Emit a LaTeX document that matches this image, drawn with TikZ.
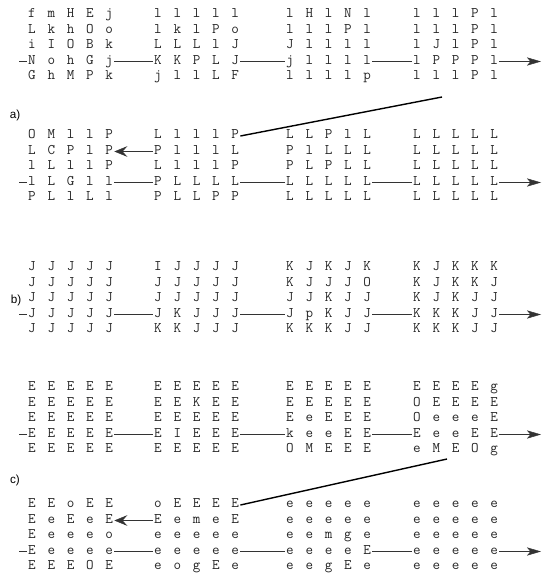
\documentclass[tikz,border=0pt]{standalone}
\usepackage{fontspec}
\newfontfamily\lblfont{Liberation Sans}
\usetikzlibrary{arrows.meta,calc}
\tikzset{
  ltr/.style={font=\ttfamily\fontsize{12.5}{14}\selectfont,text=black!85,inner sep=1pt,text height=1.5ex,text depth=0.4ex},
  tag/.style={font=\lblfont\fontsize{10}{12}\selectfont},
  rowline/.style={thin,black!80},
  outarr/.style={rowline,-{Stealth[length=12pt,width=7pt,inset=3pt]}},
  backarr/.style={rowline,-{Stealth[length=11pt,width=9pt,inset=4pt]}},
  wrapline/.style={line width=1.2pt}
}
% one 5x5 block of letters: name, x, y of first row, rows
\newcommand{\letterblock}[4]{%
  \foreach \row [count=\i] in {#4} {
    \foreach \ch [count=\j] in \row
      \node[ltr] (#1-\i-\j) at ({#2+19.3*(\j-1)},{#3+15.5*(\i-1)}) {\ch};
  }
}

\begin{document}
\begin{tikzpicture}[x=0.3mm,y=-0.3mm]
  \useasboundingbox (0,0) rectangle (543,577);

  % a) upper
  \letterblock{upA1}{32}{15}{{f,m,H,E,j},{L,k,h,O,o},{i,I,O,B,k},{N,o,h,G,j},{G,h,M,P,k}}
  \letterblock{upA2}{158}{15}{{l,l,l,l,l},{l,k,l,P,o},{L,L,L,l,J},{K,K,P,L,J},{j,l,l,L,F}}
  \letterblock{upA3}{290}{15}{{l,H,l,N,l},{l,l,l,P,l},{J,l,l,l,l},{j,l,l,l,l},{l,l,l,l,p}}
  \letterblock{upA4}{417}{15}{{l,l,l,P,l},{l,l,l,P,l},{l,J,l,P,l},{l,P,P,P,l},{l,l,l,P,l}}
  \node[tag] (lblA) at (15,115) {a)};
  % a) lower
  \letterblock{loA1}{32}{136}{{O,M,l,l,P},{L,C,P,l,P},{l,L,l,l,P},{l,L,G,l,l},{P,L,l,L,l}}
  \letterblock{loA2}{158}{136}{{L,l,l,l,P},{P,l,l,l,L},{L,l,l,l,P},{P,L,L,L,L},{P,L,L,P,P}}
  \letterblock{loA3}{290}{136}{{L,L,P,l,L},{P,l,L,L,L},{P,L,P,L,L},{L,L,L,L,L},{L,L,L,L,L}}
  \letterblock{loA4}{417}{136}{{L,L,L,L,L},{L,L,L,L,L},{L,L,L,L,L},{L,L,L,L,L},{L,L,L,L,L}}

  % b)
  \letterblock{midB1}{32}{268}{{J,J,J,J,J},{J,J,J,J,J},{J,J,J,J,J},{J,J,J,J,J},{J,J,J,J,J}}
  \letterblock{midB2}{158}{268}{{I,J,J,J,J},{J,J,J,J,J},{J,J,J,J,J},{J,K,J,J,J},{K,K,J,J,J}}
  \letterblock{midB3}{290}{268}{{K,J,K,J,K},{K,J,J,J,O},{J,J,K,J,J},{J,p,K,J,J},{K,K,K,J,J}}
  \letterblock{midB4}{417}{268}{{K,J,K,K,K},{K,J,K,K,J},{K,J,K,J,J},{K,K,K,J,J},{K,K,K,J,J}}
  \node[tag] (lblB) at (16,300) {b)};

  % c) upper
  \letterblock{upC1}{32}{388}{{E,E,E,E,E},{E,E,E,E,E},{E,E,E,E,E},{E,E,E,E,E},{E,E,E,E,E}}
  \letterblock{upC2}{158}{388}{{E,E,E,E,E},{E,E,K,E,E},{E,E,E,E,E},{E,I,E,E,E},{E,E,E,E,E}}
  \letterblock{upC3}{290}{388}{{E,E,E,E,E},{E,E,E,E,E},{E,e,E,E,E},{k,e,e,E,E},{O,M,E,E,E}}
  \letterblock{upC4}{417}{388}{{E,E,E,E,g},{O,E,E,E,E},{O,e,e,e,E},{E,e,e,E,E},{e,M,E,O,g}}
  \node[tag] (lblC) at (15,480) {c)};
  % c) lower
  \letterblock{loC1}{32}{505}{{E,E,o,E,E},{E,e,E,e,E},{E,e,e,e,o},{E,e,e,e,e},{E,E,E,O,E}}
  \letterblock{loC2}{158}{505}{{o,E,E,E,E},{E,e,m,e,E},{e,e,e,e,e},{e,e,e,e,e},{e,o,g,E,e}}
  \letterblock{loC3}{290}{505}{{e,e,e,e,e},{e,e,e,e,e},{e,e,m,g,e},{e,e,e,e,E},{e,e,g,E,e}}
  \letterblock{loC4}{417}{505}{{e,e,e,e,e},{e,e,e,e,e},{e,e,e,e,e},{e,e,e,e,e},{e,e,e,e,e}}

  % lines along the fourth row
  \foreach \s in {upA,loA,midB,upC,loC} {
    \coordinate (\s0) at (\s1-4-1.west -| 19,0);
    \coordinate (\s5) at (\s4-4-5.east -| 541,0);
    \draw[rowline] (\s0) -- (\s1-4-1.west);
    \foreach \b [evaluate=\b as \n using int(\b+1)] in {1,2,3}
      \draw[rowline] (\s\b-4-5.east) -- (\s\n-4-1.west);
    \draw[outarr] (\s4-4-5.east) -- (\s5);
  }

  % wrap from upper to lower half
  \coordinate (upAturn) at (442,97);
  \coordinate (upCturn) at (447,459);
  \draw[wrapline] (loA2-1-5.east) -- (upAturn);
  \draw[wrapline] (loC2-1-5.east) -- (upCturn);
  \draw[backarr] (loA2-2-1.west) -- (loA1-2-5.east);
  \draw[backarr] (loC2-2-1.west) -- (loC1-2-5.east);
\end{tikzpicture}
\end{document}
